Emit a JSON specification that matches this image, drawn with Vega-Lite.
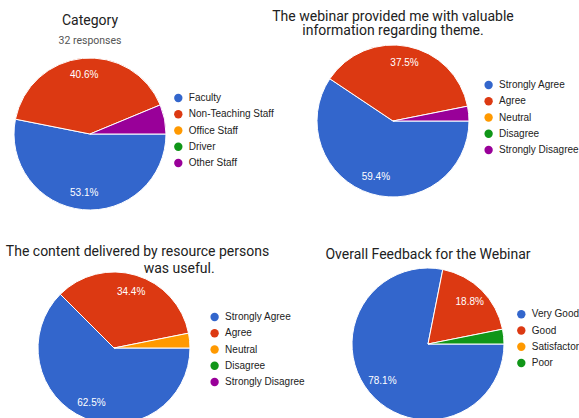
{
  "$schema": "https://vega.github.io/schema/vega-lite/v6.json",
  "padding": {"left": 5, "top": 10, "right": 0, "bottom": 0},
  "background": "white",
  "config": {
    "view": {"stroke": null},
    "font": "Liberation Sans",
    "title": {"font": "Roboto", "fontSize": 14, "fontWeight": "normal", "color": "#212121", "anchor": "middle", "frame": "group", "subtitleFont": "Roboto", "subtitleFontSize": 10.5, "subtitleColor": "#555555"},
    "legend": {"labelFont": "Liberation Sans", "labelFontSize": 10, "labelColor": "#222222", "symbolType": "circle", "symbolSize": 70, "symbolStrokeWidth": 0, "rowPadding": 6.25, "labelOffset": 5.5, "padding": 0, "title": null, "orient": "none"}
  },
  "columns": 2,
  "align": {"row": "each", "column": "each"},
  "bounds": "flush",
  "spacing": {"row": 43, "column": 0},
  "resolve": {"scale": {"color": "independent", "theta": "independent"}, "legend": {"color": "independent"}},
  "concat": [
    {
      "width": 154, "height": 180,
      "title": {"text": "Category", "subtitle": "32 responses", "offset": -2, "subtitlePadding": 8},
      "data": {"values": [
        {"cat": "Faculty", "n": 17, "i": 1},
        {"cat": "Non-Teaching Staff", "n": 13, "i": 2},
        {"cat": "Office Staff", "n": 0, "i": 3},
        {"cat": "Driver", "n": 0, "i": 4},
        {"cat": "Other Staff", "n": 2, "i": 5}
      ]},
      "transform": [
        {"joinaggregate": [{"op": "sum", "field": "n", "as": "total"}]},
        {"calculate": "datum.n / datum.total", "as": "pct"}
      ],
      "encoding": {
        "theta": {"field": "n", "type": "quantitative", "stack": true, "scale": {"range": [1.5707963, 7.8539816]}},
        "order": {"field": "i", "type": "quantitative", "sort": "ascending"}
      },
      "layer": [
        {
          "transform": [{"filter": "datum.n > 0"}],
          "mark": {"type": "arc", "radius": 76, "stroke": "white", "strokeWidth": 1},
          "encoding": {
            "color": {"field": "cat", "type": "nominal",
              "scale": {"domain": ["Faculty", "Non-Teaching Staff", "Office Staff", "Driver", "Other Staff"], "range": ["#3366cc", "#dc3912", "#ff9900", "#109618", "#990099"]},
              "legend": {"legendX": 160.3, "legendY": 49, "labelLimit": 88}}
          }
        },
        {
          "mark": {"type": "text", "radius": 59, "fill": "white", "fontSize": 10, "font": "Liberation Sans"},
          "encoding": {
            "detail": {"field": "cat", "type": "nominal"},
            "text": {"field": "pct", "type": "quantitative", "format": ".1%"},
            "opacity": {"condition": {"test": "datum.pct < 0.07", "value": 0}, "value": 1}
          }
        }
      ]
    },
    {
      "width": 356, "height": 154,
      "title": {"text": ["The webinar provided me with valuable", "information regarding theme."], "lineHeight": 14, "offset": 5},
      "data": {"values": [
        {"cat": "Strongly Agree", "n": 19, "i": 1},
        {"cat": "Agree", "n": 12, "i": 2},
        {"cat": "Neutral", "n": 0, "i": 3},
        {"cat": "Disagree", "n": 0, "i": 4},
        {"cat": "Strongly Disagree", "n": 1, "i": 5}
      ]},
      "transform": [
        {"joinaggregate": [{"op": "sum", "field": "n", "as": "total"}]},
        {"calculate": "datum.n / datum.total", "as": "pct"}
      ],
      "encoding": {
        "theta": {"field": "n", "type": "quantitative", "stack": true, "scale": {"range": [1.5707963, 7.8539816]}},
        "order": {"field": "i", "type": "quantitative", "sort": "ascending"}
      },
      "layer": [
        {
          "transform": [{"filter": "datum.n > 0"}],
          "mark": {"type": "arc", "radius": 76, "stroke": "white", "strokeWidth": 1},
          "encoding": {
            "color": {"field": "cat", "type": "nominal",
              "scale": {"domain": ["Strongly Agree", "Agree", "Neutral", "Disagree", "Strongly Disagree"], "range": ["#3366cc", "#dc3912", "#ff9900", "#109618", "#990099"]},
              "legend": {"legendX": 268.6, "legendY": 36, "labelLimit": 200}}
          }
        },
        {
          "mark": {"type": "text", "radius": 59, "fill": "white", "fontSize": 10, "font": "Liberation Sans"},
          "encoding": {
            "detail": {"field": "cat", "type": "nominal"},
            "text": {"field": "pct", "type": "quantitative", "format": ".1%"},
            "opacity": {"condition": {"test": "datum.pct < 0.07", "value": 0}, "value": 1}
          }
        }
      ]
    },
    {
      "width": 202, "height": 162,
      "title": {"text": ["The content delivered by resource persons", "\u200b\u00a0\u00a0\u00a0\u00a0\u00a0\u00a0\u00a0\u00a0\u00a0\u00a0\u00a0\u00a0\u00a0\u00a0\u00a0\u00a0\u00a0\u00a0\u00a0\u00a0\u00a0\u00a0\u00a0\u00a0was useful."], "lineHeight": 17, "offset": -9, "dx": 23.5},
      "data": {"values": [
        {"cat": "Strongly Agree", "n": 20, "i": 1},
        {"cat": "Agree", "n": 11, "i": 2},
        {"cat": "Neutral", "n": 1, "i": 3},
        {"cat": "Disagree", "n": 0, "i": 4},
        {"cat": "Strongly Disagree", "n": 0, "i": 5}
      ]},
      "transform": [
        {"joinaggregate": [{"op": "sum", "field": "n", "as": "total"}]},
        {"calculate": "datum.n / datum.total", "as": "pct"}
      ],
      "encoding": {
        "theta": {"field": "n", "type": "quantitative", "stack": true, "scale": {"range": [1.5707963, 7.8539816]}},
        "order": {"field": "i", "type": "quantitative", "sort": "ascending"}
      },
      "layer": [
        {
          "transform": [{"filter": "datum.n > 0"}],
          "mark": {"type": "arc", "radius": 76, "stroke": "white", "strokeWidth": 1},
          "encoding": {
            "color": {"field": "cat", "type": "nominal",
              "scale": {"domain": ["Strongly Agree", "Agree", "Neutral", "Disagree", "Strongly Disagree"], "range": ["#3366cc", "#dc3912", "#ff9900", "#109618", "#990099"]},
              "legend": {"legendX": 196.6, "legendY": 45, "labelLimit": 200}}
          }
        },
        {
          "mark": {"type": "text", "radius": 59, "fill": "white", "fontSize": 10, "font": "Liberation Sans"},
          "encoding": {
            "detail": {"field": "cat", "type": "nominal"},
            "text": {"field": "pct", "type": "quantitative", "format": ".1%"},
            "opacity": {"condition": {"test": "datum.pct < 0.07", "value": 0}, "value": 1}
          }
        }
      ]
    },
    {
      "width": 426, "height": 154,
      "title": {"text": "Overall Feedback for the Webinar", "offset": 4},
      "data": {"values": [
        {"cat": "Very Good", "n": 25, "i": 1},
        {"cat": "Good", "n": 6, "i": 2},
        {"cat": "Satisfactory", "n": 0, "i": 3},
        {"cat": "Poor", "n": 1, "i": 4}
      ]},
      "transform": [
        {"joinaggregate": [{"op": "sum", "field": "n", "as": "total"}]},
        {"calculate": "datum.n / datum.total", "as": "pct"}
      ],
      "encoding": {
        "theta": {"field": "n", "type": "quantitative", "stack": true, "scale": {"range": [1.5707963, 7.8539816]}},
        "order": {"field": "i", "type": "quantitative", "sort": "ascending"}
      },
      "layer": [
        {
          "transform": [{"filter": "datum.n > 0"}],
          "mark": {"type": "arc", "radius": 76, "stroke": "white", "strokeWidth": 1},
          "encoding": {
            "color": {"field": "cat", "type": "nominal",
              "scale": {"domain": ["Very Good", "Good", "Satisfactory", "Poor"], "range": ["#3366cc", "#dc3912", "#ff9900", "#109618"]},
              "legend": {"legendX": 301.3, "legendY": 42.3, "labelLimit": 200}}
          }
        },
        {
          "mark": {"type": "text", "radius": 59, "fill": "white", "fontSize": 10, "font": "Liberation Sans"},
          "encoding": {
            "detail": {"field": "cat", "type": "nominal"},
            "text": {"field": "pct", "type": "quantitative", "format": ".1%"},
            "opacity": {"condition": {"test": "datum.pct < 0.07", "value": 0}, "value": 1}
          }
        }
      ]
    }
  ]
}
